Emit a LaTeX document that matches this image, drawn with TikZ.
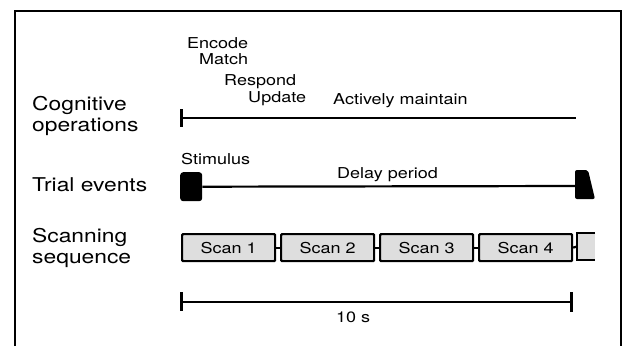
\documentclass[tikz,border=0pt]{standalone}
\usepackage{fontspec}
\setmainfont{TeX Gyre Heros}[FakeStretch=1.2]
\begin{document}
\begin{tikzpicture}[x=1pt,y=-1pt,
  lbl/.style={font=\fontsize{19}{21}\selectfont, anchor=base west, inner sep=0pt},
  sm/.style={font=\fontsize{15}{17}\selectfont, anchor=base west, inner sep=0pt},
  ln/.style={line width=2.2pt},
  tk/.style={line width=3pt},
  scanbox/.style={draw, line width=2.2pt, fill=black!13, rounded corners=1pt,
    minimum width=93pt, minimum height=27pt, inner sep=0pt,
    font=\fontsize{15}{17}\selectfont, anchor=north west}]
\useasboundingbox (0,0) rectangle (624,346);
% frame
\draw[line width=2.2pt] (15,346) -- (15,11) -- (621,11) -- (621,346);
% row labels
\node[lbl] (cog1) at (32,110) {Cognitive};
\node[lbl] (cog2) at (32,131) {operations};
\node[lbl] (trial) at (32,191) {Trial events};
\node[lbl] (scn1) at (32,242) {Scanning};
\node[lbl] (scn2) at (32,263) {sequence};
% cognitive operations
\node[sm] (enc) at (187,48) {Encode};
\node[sm] (mat) at (199,64) {Match};
\node[sm] (res) at (224,85) {Respond};
\node[sm] (upd) at (248,102) {Update};
\node[sm] (act) at (333,104) {Actively maintain};
\coordinate (c1) at (181,118);
\coordinate (c2) at (576,118);
\coordinate (c1t) at (181,109);
\coordinate (c1b) at (181,127);
\draw[ln] (c1) -- (c2);
\draw[tk] (c1t) -- (c1b);
% trial events
\node[sm] (stimtxt) at (181,164) {Stimulus};
\node[sm] (delay) at (337,178) {Delay period};
\node (stim) [fill=black, rounded corners=3pt, minimum width=22pt, minimum height=29pt,
  inner sep=0pt, anchor=north west] at (180,172) {};
\coordinate (endw) at (576,186);
\fill[rounded corners=2pt] (575,170) -- (588,170) -- (595,199) -- (575,199) -- cycle;
\draw[ln] (stim.east) -- (endw);
% scanning sequence
\node[scanbox] (s1) at (181,233) {Scan 1};
\node[scanbox] (s2) at (280,233) {Scan 2};
\node[scanbox] (s3) at (379,233) {Scan 3};
\node[scanbox] (s4) at (478,233) {Scan 4};
\coordinate (s5w) at (577,246.5);
\fill[black!13] (577,233) rectangle (595,260);
\draw[ln] (595,233) -- (577,233) -- (577,260) -- (595,260);
\draw[ln] (s1.east) -- (s2.west);
\draw[ln] (s2.east) -- (s3.west);
\draw[ln] (s3.east) -- (s4.west);
\draw[ln] (s4.east) -- (s5w);
% scale bar
\coordinate (b1) at (181,302);
\coordinate (b2) at (571,302);
\draw[ln] (b1) -- (b2);
\draw[tk] (181,292) -- (181,311);
\draw[tk] (571,292) -- (571,312);
\node[sm] (tens) at (336,322) {10 s};
\end{tikzpicture}
\end{document}
